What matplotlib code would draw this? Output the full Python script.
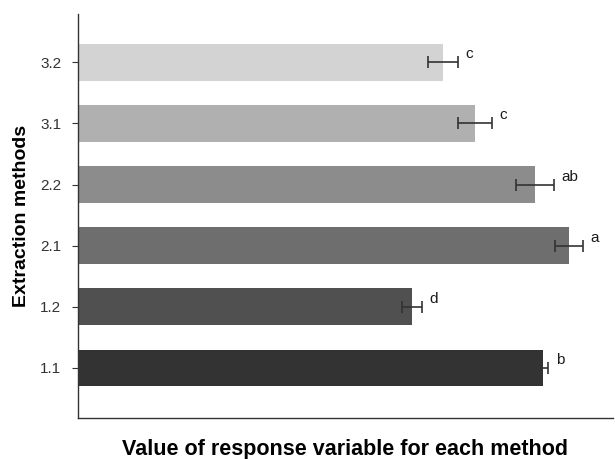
import matplotlib
matplotlib.use("Agg")
import matplotlib.pyplot as plt

methods = ["1.1", "1.2", "2.1", "2.2", "3.1", "3.2"]
values = [86.9, 62.4, 91.8, 85.4, 74.2, 68.2]
errors = [1.0, 1.9, 2.6, 3.6, 3.1, 2.8]
letters = ["b", "d", "a", "ab", "c", "c"]
colors = ["#333333", "#505050", "#6e6e6e", "#8c8c8c", "#b0b0b0", "#d3d3d3"]

plt.rcParams['font.family'] = ['Liberation Sans', 'DejaVu Sans']

fig = plt.figure(figsize=(6.15, 4.59), dpi=100)
ax = fig.add_axes([0.1268, 0.0893, 0.8699, 0.8802])

ypos = list(range(len(methods)))
ax.barh(ypos, values, height=0.6, color=colors, zorder=2)
ax.errorbar(values, ypos, xerr=errors, fmt='none', ecolor='#333333',
            elinewidth=1.2, capsize=4, capthick=1.2, zorder=3)
for y, v, e, l in zip(ypos, values, errors, letters):
    ax.text(v + e + 1.4, y + 0.13, l, ha='left', va='center', fontsize=11, color='#1a1a1a')

ax.set_xlim(0, 100)
ax.set_ylim(-0.82, 5.79)
ax.set_yticks(ypos)
ax.set_yticklabels(methods, fontsize=11, color='#333333')
ax.set_xticks([])
for s in ['top', 'right']:
    ax.spines[s].set_visible(False)
for s in ['left', 'bottom']:
    ax.spines[s].set_color('#333333')
    ax.spines[s].set_linewidth(1.0)
ax.tick_params(axis='y', length=4, color='#333333', pad=8)

ax.set_ylabel("Extraction methods", fontsize=14, fontweight='bold', labelpad=7)
ax.set_xlabel("Value of response variable for each method", fontsize=15.5,
              fontweight='bold')
ax.xaxis.set_label_coords(0.5, -0.051)

fig.savefig("out.png", dpi=100)
